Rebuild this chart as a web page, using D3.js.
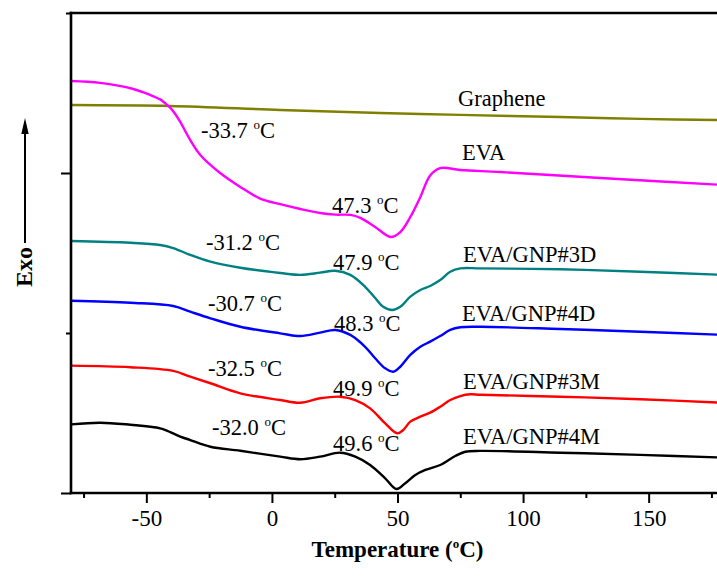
<!DOCTYPE html>
<html>
<head>
<meta charset="utf-8">
<script src="https://cdn.jsdelivr.net/npm/d3@7"></script>
<style>
  html, body { margin: 0; padding: 0; background: #fff; }
  svg { display: block; }
  svg text { font-family: "Liberation Serif", "Times New Roman", serif; }
</style>
</head>
<body>
<svg id="chart" width="717" height="577"></svg>
<script>
// DSC heating curves, heat flow in arbitrary units (exo up), temperature in °C
const graphene = [[-80,24.25],[-40.5,24.19],[3.3,23.94],[43.1,23.75],[75,23.63],[114.8,23.5],[146.8,23.38],[180,23.31]];
const eva = [[-80,25.75],[-68.4,25.63],[-55.2,25.25],[-48.5,24.88],[-44.5,24.6],[-42.5,24.36],[-40.5,24.09],[-38.5,23.69],[-36.5,23.19],[-32.5,22.06],[-28.5,21.13],[-20.6,20.0],[-12.6,19.13],[-4.7,18.4],[3.3,18.05],[11.3,17.75],[19.2,17.5],[25.2,17.4],[31.2,17.38],[35.2,17.2],[41.1,16.63],[47.3,16.0],[51.1,16.31],[55.1,17.25],[59.1,18.5],[63.0,19.85],[67.0,20.31],[75.0,20.19],[90.9,20.06],[130.8,19.69],[180,19.25]];
const gnp3d = [[-80,15.75],[-56.4,15.64],[-44.5,15.5],[-39.3,15.31],[-32.5,14.88],[-24.5,14.46],[-12.6,14.08],[3.3,13.75],[11.3,13.63],[19.2,13.77],[25.2,13.89],[31.2,13.63],[37.1,12.89],[41.1,12.19],[44.3,11.64],[47.9,11.44],[51.1,11.64],[55.1,12.27],[59.1,12.69],[63.0,12.94],[67.0,13.31],[71.0,13.83],[75.0,14.04],[83.0,14.04],[114.8,13.98],[146.7,13.83],[180,13.63]];
const gnp4d = [[-80,12.02],[-56.4,11.89],[-39.3,11.69],[-32.5,11.33],[-24.5,10.92],[-12.6,10.39],[3.3,9.98],[11.3,9.81],[19.2,10.02],[25.2,10.19],[31.2,9.88],[37.1,9.14],[41.1,8.42],[45.1,7.79],[48.3,7.58],[51.1,7.89],[55.1,8.63],[59.1,9.14],[63.0,9.46],[67.0,9.81],[71.0,10.19],[75.0,10.36],[83.0,10.39],[114.8,10.25],[146.7,10.08],[180,9.88]];
const gnp3m = [[-80,7.96],[-56.4,7.86],[-39.3,7.63],[-32.5,7.27],[-24.5,6.86],[-12.6,6.23],[3.3,5.81],[11.3,5.64],[19.2,5.92],[27.2,6.02],[33.2,5.81],[39.1,5.29],[45.1,4.35],[49.9,3.73],[52.3,3.94],[55.1,4.46],[59.1,4.77],[63.0,5.02],[67.0,5.39],[71.0,5.81],[75.0,6.06],[79.0,6.17],[83.0,6.14],[114.8,6.02],[146.7,5.86],[180,5.64]];
const gnp4m = [[-80,4.29],[-68.4,4.39],[-56.4,4.27],[-48.4,4.14],[-44.5,4.04],[-42.1,3.92],[-36.5,3.53],[-32.5,3.31],[-24.5,2.89],[-12.6,2.64],[3.3,2.27],[11.3,2.11],[19.2,2.27],[27.2,2.52],[33.2,2.27],[39.1,1.75],[45.1,0.92],[49.6,0.25],[53.1,0.61],[57.1,1.13],[61.1,1.44],[67.0,1.75],[73.0,2.31],[77.0,2.58],[83.0,2.63],[114.8,2.52],[146.7,2.38],[180,2.21]];

const seriesNames = ["Graphene", "EVA", "EVA/GNP#3D", "EVA/GNP#4D", "EVA/GNP#3M", "EVA/GNP#4M"];
const seriesColors = ["#808000", "#ff00ff", "#008080", "#0000ff", "#ff0000", "#000000"];
const seriesData = [graphene, eva, gnp3d, gnp4d, gnp3m, gnp4m];

// glass transition and melting peak temperatures
const tgValues = [null, "-33.7", "-31.2", "-30.7", "-32.5", "-32.0"];
const tmValues = [null, "47.3", "47.9", "48.3", "49.9", "49.6"];

const xMajorTicks = [-50, 0, 50, 100, 150];
const xMinorTicks = [-75, -25, 25, 75, 125, 175];
const yMajorTicks = [0, 20];
const yMinorTicks = [10, 30];

const FONT = "'Liberation Serif', 'Times New Roman', serif";
const svg = d3.select("#chart");
const x = d3.scaleLinear().domain([-80, 180]).range([71, 724]);
const y = d3.scaleLinear().domain([0, 30]).range([493, 13]);

const line = d3.line()
  .x(d => x(d[0]))
  .y(d => y(d[1]))
  .curve(d3.curveCatmullRom.alpha(0.5));

// curves
svg.append("g")
  .selectAll("path")
  .data(seriesData)
  .join("path")
  .attr("d", line)
  .attr("fill", "none")
  .attr("stroke", (d, i) => seriesColors[i])
  .attr("stroke-width", 2.4)
  .attr("stroke-linejoin", "round");

// axes
const axisStroke = g => {
  g.attr("font-family", FONT);
  g.select(".domain").remove();
  g.selectAll("line").attr("stroke", "#000").attr("stroke-width", 2);
};

const xAxis = svg.append("g")
  .attr("transform", `translate(0,${y(0)})`)
  .call(d3.axisBottom(x).tickValues(xMajorTicks).tickSize(10).tickFormat(d => String(d)))
  .call(axisStroke);
xAxis.selectAll("text")
  .attr("y", 33).attr("dy", null)
  .attr("fill", "#000")
  .attr("font-family", FONT)
  .attr("font-size", 23);

svg.append("g")
  .attr("transform", `translate(0,${y(0)})`)
  .call(d3.axisBottom(x).tickValues(xMinorTicks).tickSize(5).tickFormat(""))
  .call(axisStroke);

svg.append("g")
  .attr("transform", `translate(${x(-80)},0)`)
  .call(d3.axisLeft(y).tickValues(yMajorTicks).tickSize(10).tickFormat(""))
  .call(axisStroke);
svg.append("g")
  .attr("transform", `translate(${x(-80)},0)`)
  .call(d3.axisLeft(y).tickValues(yMinorTicks).tickSize(5).tickFormat(""))
  .call(axisStroke);

// frame lines
const frame = svg.append("g").attr("stroke", "#000").attr("stroke-width", 2.6).attr("stroke-linecap", "square");
frame.append("line").attr("x1", x(-80)).attr("x2", x(-80)).attr("y1", y(30)).attr("y2", y(0));
frame.append("line").attr("x1", x(-80)).attr("x2", x(180)).attr("y1", y(0)).attr("y2", y(0));
frame.append("line").attr("x1", x(-80)).attr("x2", x(180)).attr("y1", y(30)).attr("y2", y(30));

// axis titles
const xt = svg.append("text")
  .attr("x", x(50)).attr("y", 557)
  .attr("text-anchor", "middle")
  .attr("font-family", FONT)
  .attr("font-weight", "bold")
  .attr("font-size", 23);
xt.append("tspan").text("Temperature (");
xt.append("tspan").attr("font-size", 13).attr("dy", -9).text("o");
xt.append("tspan").attr("dy", 9).text("C)");

svg.append("text")
  .attr("transform", "translate(32,267) rotate(-90)")
  .attr("text-anchor", "middle")
  .attr("font-family", FONT)
  .attr("font-weight", "bold")
  .attr("font-size", 24)
  .text("Exo");

svg.append("line")
  .attr("x1", 25).attr("x2", 25).attr("y1", 243).attr("y2", 130)
  .attr("stroke", "#000").attr("stroke-width", 2);
svg.append("path")
  .attr("d", "M25,118 L21.3,134 L28.7,134 Z")
  .attr("fill", "#000");

// series labels
const nameLabelPos = [[458, 106], [462, 160], [463, 261.7], [462, 320.7], [463, 389], [463, 444]];
svg.append("g")
  .selectAll("text")
  .data(seriesNames)
  .join("text")
  .attr("x", (d, i) => nameLabelPos[i][0])
  .attr("y", (d, i) => nameLabelPos[i][1])
  .attr("font-family", FONT)
  .attr("font-size", 22.5)
  .attr("fill", "#000")
  .text(d => d);

// temperature annotations
function degLabel(g, px, py, value) {
  const t = g.append("text").attr("x", px).attr("y", py)
    .attr("font-family", FONT).attr("font-size", 22.5).attr("fill", "#000");
  t.append("tspan").text(value + " ");
  t.append("tspan").attr("font-size", 13).attr("dy", -9).text("o");
  t.append("tspan").attr("dy", 9).text("C");
}
const tgPos = [null, [201, 138], [206, 250], [208, 311], [208, 376], [212, 435]];
const tmPos = [null, [332, 213], [333, 270], [334, 330.7], [333, 395.7], [333, 450.7]];
const ann = svg.append("g");
tgValues.forEach((v, i) => { if (v) degLabel(ann, tgPos[i][0], tgPos[i][1], v); });
tmValues.forEach((v, i) => { if (v) degLabel(ann, tmPos[i][0], tmPos[i][1], v); });
</script>
</body>
</html>
